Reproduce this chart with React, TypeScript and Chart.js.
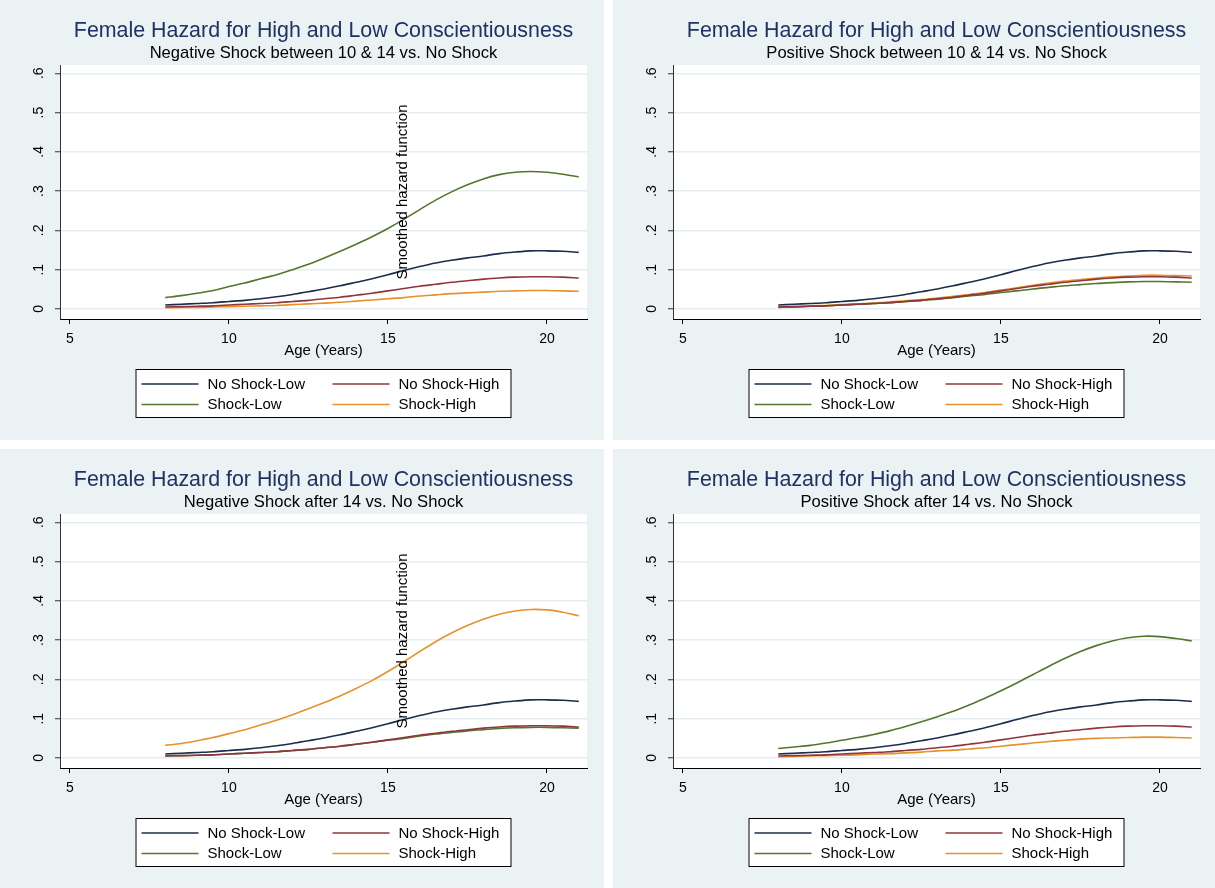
import React, { useEffect, useRef } from 'react';
import { Chart, registerables } from 'chart.js';

Chart.register(...registerables);

// ---------- data ----------
const AGES = [8, 8.5, 9, 9.5, 10, 10.5, 11, 11.5, 12, 12.5, 13, 13.5, 14, 14.5, 15, 15.5, 16, 16.5, 17, 17.5, 18, 18.5, 19, 19.5, 20, 20.5, 21];
const X_TICKS = [5, 10, 15, 20];
const Y_TICKS = [0, 0.1, 0.2, 0.3, 0.4, 0.5, 0.6];
const Y_TICK_LABELS = ['0', '.1', '.2', '.3', '.4', '.5', '.6'];
const SERIES_LABELS = ['No Shock-Low', 'No Shock-High', 'Shock-Low', 'Shock-High'];
const TITLE = 'Female Hazard for High and Low Conscientiousness';
const SUBTITLES = [
  'Negative Shock between 10 & 14 vs. No Shock',
  'Positive Shock between 10 & 14 vs. No Shock',
  'Negative Shock after 14 vs. No Shock',
  'Positive Shock after 14 vs. No Shock',
];
const X_TITLE = 'Age (Years)';
const Y_TITLE = 'Smoothed hazard function';

const NO_SHOCK_LOW = [0.010, 0.012, 0.014, 0.016, 0.019, 0.022, 0.026, 0.031, 0.037, 0.044, 0.051, 0.059, 0.068, 0.077, 0.087, 0.098, 0.108, 0.117, 0.124, 0.130, 0.135, 0.141, 0.145, 0.148, 0.148, 0.147, 0.144];
const NO_SHOCK_HIGH = [0.005, 0.006, 0.007, 0.008, 0.010, 0.012, 0.014, 0.016, 0.019, 0.022, 0.026, 0.030, 0.035, 0.040, 0.046, 0.052, 0.058, 0.063, 0.068, 0.072, 0.076, 0.079, 0.081, 0.082, 0.082, 0.081, 0.079];

const NEG_EARLY_SHOCK_LOW = [0.029, 0.034, 0.040, 0.047, 0.057, 0.066, 0.077, 0.087, 0.100, 0.114, 0.130, 0.147, 0.165, 0.184, 0.205, 0.228, 0.253, 0.277, 0.298, 0.316, 0.331, 0.342, 0.348, 0.350, 0.348, 0.343, 0.336];
const NEG_EARLY_SHOCK_HIGH = [0.003, 0.004, 0.004, 0.005, 0.006, 0.007, 0.008, 0.009, 0.011, 0.013, 0.015, 0.017, 0.020, 0.023, 0.026, 0.029, 0.033, 0.036, 0.039, 0.041, 0.043, 0.045, 0.046, 0.047, 0.047, 0.046, 0.045];

const POS_EARLY_SHOCK_LOW = [0.004, 0.005, 0.007, 0.008, 0.010, 0.012, 0.014, 0.016, 0.019, 0.022, 0.025, 0.029, 0.033, 0.037, 0.042, 0.046, 0.051, 0.055, 0.059, 0.062, 0.065, 0.067, 0.069, 0.070, 0.070, 0.069, 0.068];
const POS_EARLY_SHOCK_HIGH = [0.005, 0.006, 0.008, 0.009, 0.011, 0.013, 0.015, 0.018, 0.021, 0.024, 0.028, 0.032, 0.037, 0.042, 0.048, 0.054, 0.060, 0.066, 0.071, 0.075, 0.079, 0.082, 0.084, 0.086, 0.086, 0.085, 0.084];

const NEG_LATE_SHOCK_LOW = [0.005, 0.006, 0.007, 0.008, 0.010, 0.012, 0.014, 0.016, 0.019, 0.022, 0.026, 0.030, 0.035, 0.040, 0.045, 0.050, 0.056, 0.061, 0.065, 0.069, 0.072, 0.075, 0.077, 0.078, 0.078, 0.077, 0.076];
const NEG_LATE_SHOCK_HIGH = [0.032, 0.037, 0.044, 0.052, 0.062, 0.072, 0.084, 0.096, 0.110, 0.125, 0.141, 0.158, 0.177, 0.197, 0.220, 0.245, 0.271, 0.296, 0.318, 0.337, 0.353, 0.366, 0.374, 0.378, 0.377, 0.371, 0.362];

const POS_LATE_SHOCK_LOW = [0.024, 0.028, 0.032, 0.038, 0.045, 0.052, 0.060, 0.069, 0.080, 0.092, 0.105, 0.119, 0.135, 0.152, 0.171, 0.191, 0.212, 0.233, 0.253, 0.271, 0.286, 0.298, 0.306, 0.310, 0.309, 0.304, 0.298];
const POS_LATE_SHOCK_HIGH = [0.003, 0.004, 0.005, 0.006, 0.007, 0.008, 0.010, 0.011, 0.013, 0.015, 0.018, 0.020, 0.023, 0.026, 0.030, 0.034, 0.038, 0.042, 0.045, 0.048, 0.050, 0.051, 0.052, 0.053, 0.053, 0.052, 0.051];

// ---------- styles ----------
const COLORS = ['#1c2d4c', '#90353b', '#55752f', '#e8912b'];
const PANEL_BG = '#eaf2f3';
const GRID_COLOR = '#e4eef0';
const TITLE_COLOR = '#1f3263';
const FONT = '"Liberation Sans", Arial, sans-serif';

type PanelSpec = {
  left: number;
  top: number;
  width: number;
  height: number;
  subtitle: string;
  shockLow: number[];
  shockHigh: number[];
  showYTitle: boolean;
};

const PANELS: PanelSpec[] = [
  { left: 0, top: 0, width: 604, height: 440, subtitle: SUBTITLES[0], shockLow: NEG_EARLY_SHOCK_LOW, shockHigh: NEG_EARLY_SHOCK_HIGH, showYTitle: true },
  { left: 613, top: 0, width: 602, height: 440, subtitle: SUBTITLES[1], shockLow: POS_EARLY_SHOCK_LOW, shockHigh: POS_EARLY_SHOCK_HIGH, showYTitle: false },
  { left: 0, top: 449, width: 604, height: 439, subtitle: SUBTITLES[2], shockLow: NEG_LATE_SHOCK_LOW, shockHigh: NEG_LATE_SHOCK_HIGH, showYTitle: true },
  { left: 613, top: 449, width: 602, height: 439, subtitle: SUBTITLES[3], shockLow: POS_LATE_SHOCK_LOW, shockHigh: POS_LATE_SHOCK_HIGH, showYTitle: false },
];

function Panel({ spec }: { spec: PanelSpec }) {
  const ref = useRef<HTMLCanvasElement | null>(null);

  useEffect(() => {
    const canvas = ref.current;
    if (!canvas) return;
    const seriesData = [NO_SHOCK_LOW, NO_SHOCK_HIGH, spec.shockLow, spec.shockHigh];

    const bgPlugin = {
      id: 'panelBg',
      beforeDraw(chart: any) {
        const { ctx, chartArea } = chart;
        ctx.save();
        ctx.fillStyle = PANEL_BG;
        ctx.fillRect(0, 0, chart.width, chart.height);
        ctx.fillStyle = '#ffffff';
        ctx.fillRect(chartArea.left, chartArea.top, chartArea.right - chartArea.left, chartArea.bottom - chartArea.top);
        ctx.restore();
      },
    };

    const textPlugin = {
      id: 'panelText',
      afterDraw(chart: any) {
        const { ctx, chartArea } = chart;
        const cx = (chartArea.left + chartArea.right) / 2;
        ctx.save();
        // titles
        ctx.textAlign = 'center';
        ctx.textBaseline = 'alphabetic';
        ctx.fillStyle = TITLE_COLOR;
        ctx.font = `21.4px ${FONT}`;
        ctx.fillText(TITLE, cx, 36.5);
        ctx.fillStyle = '#000000';
        ctx.font = `16.6px ${FONT}`;
        ctx.fillText(spec.subtitle, cx, 58.3);

        // y axis title (drawn inside plot, as in the original)
        if (spec.showYTitle) {
          ctx.save();
          ctx.translate(chartArea.left + 346.5, (chartArea.top + chartArea.bottom) / 2);
          ctx.rotate(-Math.PI / 2);
          ctx.textAlign = 'center';
          ctx.textBaseline = 'alphabetic';
          ctx.font = `15px ${FONT}`;
          ctx.fillStyle = '#000000';
          ctx.fillText(Y_TITLE, 0, 0);
          ctx.restore();
        }

        // legend
        const boxL = cx - 188;
        const boxT = 369;
        const boxW = 376;
        const boxH = 49;
        ctx.fillStyle = '#ffffff';
        ctx.fillRect(boxL, boxT, boxW, boxH);
        ctx.strokeStyle = '#000000';
        ctx.lineWidth = 1;
        ctx.strokeRect(boxL + 0.5, boxT + 0.5, boxW - 1, boxH - 1);
        ctx.font = `15px ${FONT}`;
        ctx.textAlign = 'left';
        ctx.textBaseline = 'middle';
        chart.data.datasets.forEach((ds: any, i: number) => {
          const col = i % 2;
          const row = Math.floor(i / 2);
          const lx = boxL + 6 + col * 191;
          const ly = boxT + 15 + row * 20.5;
          ctx.strokeStyle = ds.borderColor;
          ctx.lineWidth = 1.6;
          ctx.beginPath();
          ctx.moveTo(lx, ly);
          ctx.lineTo(lx + 57, ly);
          ctx.stroke();
          ctx.fillStyle = '#000000';
          ctx.fillText(ds.label, lx + 66, ly + 0.5);
        });
        ctx.restore();
      },
    };

    const chart = new Chart(canvas, {
      type: 'line',
      data: {
        datasets: SERIES_LABELS.map((label, i) => ({
          label,
          data: AGES.map((x, j) => ({ x, y: seriesData[i][j] })),
          borderColor: COLORS[i],
          backgroundColor: COLORS[i],
          borderWidth: 1.6,
          pointRadius: 0,
          fill: false,
          tension: 0.3,
        })),
      },
      options: {
        animation: false,
        responsive: false,
        devicePixelRatio: 1,
        layout: {
          padding: { left: 0, top: 65, right: spec.width - 587, bottom: spec.height - 319 - 45 },
        },
        plugins: {
          legend: { display: false },
          title: { display: false },
          tooltip: { enabled: false },
        },
        scales: {
          x: {
            type: 'linear',
            min: 4.69,
            max: 21.26,
            afterBuildTicks: (scale: any) => {
              scale.ticks = X_TICKS.map((v) => ({ value: v }));
            },
            afterFit: (scale: any) => {
              scale.height = 45;
            },
            ticks: {
              font: { family: FONT, size: 14 },
              color: '#000000',
              padding: 7,
              maxRotation: 0,
              callback: (v: any) => String(v),
            },
            grid: { drawOnChartArea: false, drawTicks: true, tickLength: 5, tickColor: '#000000', lineWidth: 1 },
            border: { display: true, color: '#000000', width: 1 },
            title: {
              display: true,
              text: X_TITLE,
              font: { family: FONT, size: 15 },
              color: '#000000',
              padding: { top: 0, bottom: 4 },
            },
          },
          y: {
            type: 'linear',
            min: -0.0255,
            max: 0.621,
            afterBuildTicks: (scale: any) => {
              scale.ticks = Y_TICKS.map((v) => ({ value: v }));
            },
            afterFit: (scale: any) => {
              scale.width = 60;
            },
            ticks: {
              font: { family: FONT, size: 14 },
              color: '#000000',
              padding: 10,
              minRotation: 90,
              maxRotation: 90,
              crossAlign: 'center',
              callback: (v: any) => {
                const idx = Y_TICKS.findIndex((t) => Math.abs(t - Number(v)) < 1e-9);
                return idx >= 0 ? Y_TICK_LABELS[idx] : '';
              },
            },
            grid: { drawOnChartArea: true, color: GRID_COLOR, lineWidth: 1.5, drawTicks: true, tickLength: 5, tickColor: '#333333', tickWidth: 1 },
            border: { display: true, color: '#333333', width: 1 },
          },
        },
      } as any,
      plugins: [bgPlugin, textPlugin],
    });

    return () => chart.destroy();
  }, [spec]);

  return (
    <div style={{ position: 'absolute', left: spec.left, top: spec.top, width: spec.width, height: spec.height }}>
      <canvas ref={ref} width={spec.width} height={spec.height} style={{ display: 'block', width: spec.width, height: spec.height }} />
    </div>
  );
}

export default function App() {
  return (
    <div style={{ position: 'absolute', left: 0, top: 0, width: 1215, height: 888, background: '#ffffff' }}>
      {PANELS.map((p, i) => (
        <Panel key={i} spec={p} />
      ))}
    </div>
  );
}
